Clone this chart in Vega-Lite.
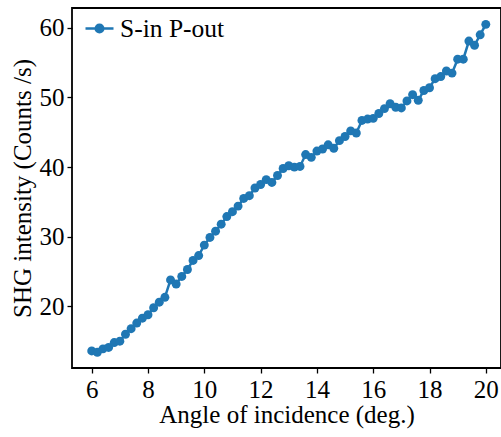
{
  "$schema": "https://vega.github.io/schema/vega-lite/v6.json",
  "autosize": "none",
  "padding": {"left": 72, "top": 8, "right": 0, "bottom": 69},
  "width": 429,
  "height": 360,
  "background": "white",
  "config": {
    "view": {"stroke": "black", "strokeWidth": 1.8},
    "font": "Liberation Serif",
    "axis": {
      "domain": false, "grid": false,
      "tickColor": "black", "tickSize": 5, "tickWidth": 1.3,
      "labelFont": "Liberation Serif", "labelFontSize": 25, "labelColor": "black",
      "titleFont": "Liberation Serif", "titleFontSize": 25, "titleColor": "black", "titleFontWeight": "normal"
    }
  },
  "data": {"values": [
    {"angle": 6.0, "shg": 13.6, "series": "S-in P-out"},
    {"angle": 6.2, "shg": 13.4, "series": "S-in P-out"},
    {"angle": 6.4, "shg": 13.9, "series": "S-in P-out"},
    {"angle": 6.6, "shg": 14.1, "series": "S-in P-out"},
    {"angle": 6.8, "shg": 14.8, "series": "S-in P-out"},
    {"angle": 7.0, "shg": 15.0, "series": "S-in P-out"},
    {"angle": 7.2, "shg": 16.0, "series": "S-in P-out"},
    {"angle": 7.4, "shg": 16.8, "series": "S-in P-out"},
    {"angle": 7.6, "shg": 17.6, "series": "S-in P-out"},
    {"angle": 7.8, "shg": 18.3, "series": "S-in P-out"},
    {"angle": 8.0, "shg": 18.8, "series": "S-in P-out"},
    {"angle": 8.2, "shg": 19.8, "series": "S-in P-out"},
    {"angle": 8.4, "shg": 20.6, "series": "S-in P-out"},
    {"angle": 8.6, "shg": 21.3, "series": "S-in P-out"},
    {"angle": 8.8, "shg": 23.8, "series": "S-in P-out"},
    {"angle": 9.0, "shg": 23.2, "series": "S-in P-out"},
    {"angle": 9.2, "shg": 24.3, "series": "S-in P-out"},
    {"angle": 9.4, "shg": 25.3, "series": "S-in P-out"},
    {"angle": 9.6, "shg": 26.6, "series": "S-in P-out"},
    {"angle": 9.8, "shg": 27.3, "series": "S-in P-out"},
    {"angle": 10.0, "shg": 28.8, "series": "S-in P-out"},
    {"angle": 10.2, "shg": 29.9, "series": "S-in P-out"},
    {"angle": 10.4, "shg": 30.8, "series": "S-in P-out"},
    {"angle": 10.6, "shg": 31.8, "series": "S-in P-out"},
    {"angle": 10.8, "shg": 32.9, "series": "S-in P-out"},
    {"angle": 11.0, "shg": 33.6, "series": "S-in P-out"},
    {"angle": 11.2, "shg": 34.4, "series": "S-in P-out"},
    {"angle": 11.4, "shg": 35.5, "series": "S-in P-out"},
    {"angle": 11.6, "shg": 35.9, "series": "S-in P-out"},
    {"angle": 11.8, "shg": 37.0, "series": "S-in P-out"},
    {"angle": 12.0, "shg": 37.5, "series": "S-in P-out"},
    {"angle": 12.2, "shg": 38.2, "series": "S-in P-out"},
    {"angle": 12.4, "shg": 37.8, "series": "S-in P-out"},
    {"angle": 12.6, "shg": 38.8, "series": "S-in P-out"},
    {"angle": 12.8, "shg": 39.8, "series": "S-in P-out"},
    {"angle": 13.0, "shg": 40.2, "series": "S-in P-out"},
    {"angle": 13.2, "shg": 40.0, "series": "S-in P-out"},
    {"angle": 13.4, "shg": 40.1, "series": "S-in P-out"},
    {"angle": 13.6, "shg": 41.8, "series": "S-in P-out"},
    {"angle": 13.8, "shg": 41.4, "series": "S-in P-out"},
    {"angle": 14.0, "shg": 42.3, "series": "S-in P-out"},
    {"angle": 14.2, "shg": 42.6, "series": "S-in P-out"},
    {"angle": 14.4, "shg": 43.2, "series": "S-in P-out"},
    {"angle": 14.6, "shg": 42.7, "series": "S-in P-out"},
    {"angle": 14.8, "shg": 43.8, "series": "S-in P-out"},
    {"angle": 15.0, "shg": 44.4, "series": "S-in P-out"},
    {"angle": 15.2, "shg": 45.2, "series": "S-in P-out"},
    {"angle": 15.4, "shg": 44.9, "series": "S-in P-out"},
    {"angle": 15.6, "shg": 46.7, "series": "S-in P-out"},
    {"angle": 15.8, "shg": 46.9, "series": "S-in P-out"},
    {"angle": 16.0, "shg": 47.0, "series": "S-in P-out"},
    {"angle": 16.2, "shg": 47.7, "series": "S-in P-out"},
    {"angle": 16.4, "shg": 48.4, "series": "S-in P-out"},
    {"angle": 16.6, "shg": 49.1, "series": "S-in P-out"},
    {"angle": 16.8, "shg": 48.6, "series": "S-in P-out"},
    {"angle": 17.0, "shg": 48.5, "series": "S-in P-out"},
    {"angle": 17.2, "shg": 49.5, "series": "S-in P-out"},
    {"angle": 17.4, "shg": 50.4, "series": "S-in P-out"},
    {"angle": 17.6, "shg": 49.6, "series": "S-in P-out"},
    {"angle": 17.8, "shg": 51.0, "series": "S-in P-out"},
    {"angle": 18.0, "shg": 51.4, "series": "S-in P-out"},
    {"angle": 18.2, "shg": 52.7, "series": "S-in P-out"},
    {"angle": 18.4, "shg": 53.0, "series": "S-in P-out"},
    {"angle": 18.6, "shg": 53.8, "series": "S-in P-out"},
    {"angle": 18.8, "shg": 53.5, "series": "S-in P-out"},
    {"angle": 19.0, "shg": 55.5, "series": "S-in P-out"},
    {"angle": 19.2, "shg": 55.5, "series": "S-in P-out"},
    {"angle": 19.4, "shg": 58.1, "series": "S-in P-out"},
    {"angle": 19.6, "shg": 57.5, "series": "S-in P-out"},
    {"angle": 19.8, "shg": 59.0, "series": "S-in P-out"},
    {"angle": 20.0, "shg": 60.5, "series": "S-in P-out"}
  ]},
  "mark": {"type": "line", "strokeWidth": 2.5, "point": {"size": 80, "filled": true, "opacity": 1}},
  "encoding": {
    "x": {
      "field": "angle", "type": "quantitative",
      "scale": {"domain": [5.3, 20.54], "nice": false, "zero": false},
      "axis": {"values": [6, 8, 10, 12, 14, 16, 18, 20], "title": "Angle of incidence (deg.)", "labelPadding": 4, "titlePadding": 0}
    },
    "y": {
      "field": "shg", "type": "quantitative",
      "scale": {"domain": [11.15, 62.85], "nice": false, "zero": false},
      "axis": {"values": [20, 30, 40, 50, 60], "title": "SHG intensity (Counts /s)", "labelPadding": 3, "titlePadding": 4}
    },
    "color": {
      "field": "series", "type": "nominal",
      "scale": {"range": ["#1f77b4"]},
      "legend": {
        "title": null, "orient": "none", "legendX": 12, "legendY": 5, "padding": 0,
        "symbolType": "M-1,0L1,0M-0.27,0a0.27,0.27 0 1,0 0.54,0a0.27,0.27 0 1,0 -0.54,0",
        "symbolSize": 784, "symbolStrokeWidth": 2.5, "symbolFillColor": "#1f77b4", "symbolStrokeColor": "#1f77b4",
        "labelFont": "Liberation Serif", "labelFontSize": 25.5, "labelColor": "black", "labelOffset": 5
      }
    }
  }
}
